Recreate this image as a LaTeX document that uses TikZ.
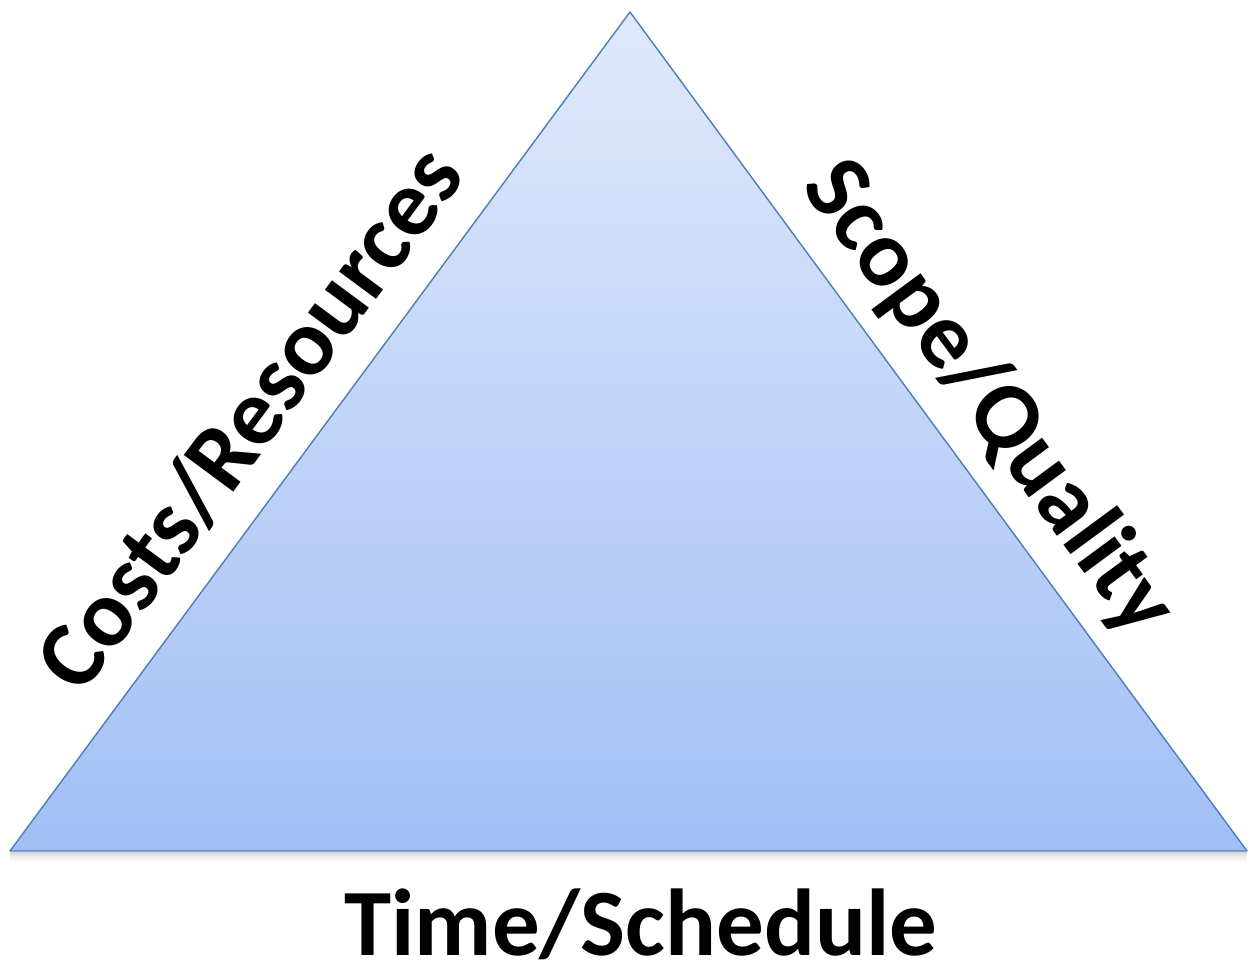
\documentclass[tikz,border=0pt]{standalone}
\usepackage{fontspec}
\setmainfont{Carlito}
\usetikzlibrary{calc}
\definecolor{edgeblue}{HTML}{4A7EBB}
\definecolor{topblue}{HTML}{DFE9FB}
\definecolor{botblue}{HTML}{A2BFF5}
\tikzset{
  sidelabel/.style={font=\bfseries\fontsize{95}{110}\selectfont, inner sep=0pt, anchor=base, text=black}
}
\begin{document}
\begin{tikzpicture}[x=1pt,y=-1pt]
\useasboundingbox (0,0) rectangle (1250,969);
\coordinate (apex) at (630,12);
\coordinate (bl) at (10,851);
\coordinate (br) at (1247,851);
% soft shadow under the base
\foreach \d/\o in {2/0.25,4/0.18,6/0.12,8/0.07,10/0.04}{
  \draw[black!60, line width=2pt, opacity=\o] ([yshift=-\d pt]bl) -- ([yshift=-\d pt]br);
}
\shade[top color=topblue, bottom color=botblue] (apex) -- (br) -- (bl) -- cycle;
\draw[edgeblue, line width=1.4pt, line join=round] (apex) -- (br) -- (bl) -- cycle;
\coordinate (costpos) at ($(bl)!0.47!(apex)+(-27,-20)$);
\coordinate (scopepos) at ($(apex)!0.503!(br)+(27,-20)$);
\node[sidelabel, rotate=53.5] (cost) at (costpos) {Costs/Resources};
\node[sidelabel, rotate=-53.6] (scope) at (scopepos) {Scope/Quality};
\node[sidelabel] (time) at (641,955) {Time/Schedule};
\end{tikzpicture}
\end{document}
